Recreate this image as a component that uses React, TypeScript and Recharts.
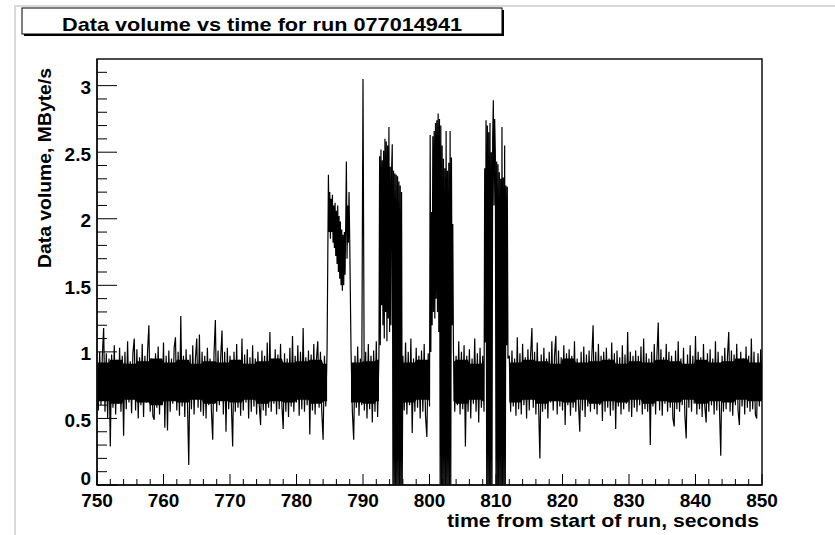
import React from 'react';
import { ComposedChart, Line, Area, XAxis, YAxis, ReferenceArea } from 'recharts';

// ---- data (MByte/s), each segment: start time (s), step (s), values ----
const segA1Start = 750.0;
const segA1Step = 0.2;
const segA1 = [
  0.86, 0.56, 1.0, 0.6, 0.97, 1.18, 0.55, 0.99, 0.5, 0.95,
  0.29, 0.98, 0.58, 1.05, 0.53, 0.94, 0.61, 1.03, 0.55, 0.97,
  0.37, 1.0, 0.57, 1.08, 0.62, 0.93, 0.54, 0.99, 1.1, 0.56,
  1.02, 0.5, 0.96, 0.6, 1.06, 0.51, 0.97, 0.62, 1.0, 1.2,
  0.55, 0.95, 0.52, 0.49, 0.99, 0.58, 1.04, 0.53, 0.94, 0.6,
  1.07, 0.43, 0.97, 0.41, 1.01, 0.55, 0.95, 0.61, 1.03, 1.11,
  0.56, 1.0, 0.52, 1.27, 0.59, 0.97, 0.51, 1.02, 0.63, 0.15,
  0.98, 0.57, 1.05, 0.53, 0.95, 1.1, 0.58, 1.13, 0.55, 1.0,
  0.52, 0.97, 0.5, 1.03, 0.6,
];

const segA2Start = 767.0;
const segA2Step = 0.2;
const segA2 = [
  0.95, 0.56, 0.34, 0.99, 1.24, 0.55, 1.01, 0.6, 0.96, 1.16,
  0.53, 1.0, 0.4, 1.03, 0.57, 0.97, 0.61, 0.29, 1.0, 0.55,
  1.06, 0.58, 0.94, 0.52, 1.1, 0.56, 0.98, 0.62, 1.02, 0.5,
  0.96, 0.55, 1.05, 0.59, 0.95, 0.53, 1.0, 0.6, 0.45, 1.01,
  0.56, 0.97, 0.52, 1.07, 0.58, 1.15, 0.55, 0.94, 0.61, 1.02,
  0.53, 0.98, 0.57, 1.06, 0.6, 0.42, 0.99, 0.55, 0.95, 0.51,
  1.03, 0.59, 1.12, 0.55, 0.97, 0.62, 1.05, 0.52, 1.0, 0.57,
  1.18, 0.55, 0.96, 0.6, 1.01, 0.38, 0.98, 0.56, 1.06, 0.53,
  0.94, 1.08, 0.58, 1.0, 0.55, 0.34, 0.97, 0.59, 1.02,
];

const burst1Start = 784.8;
const burst1Step = 0.1;
const burst1 = [
  2.33, 1.9, 2.2, 1.85, 2.15, 1.9, 2.18, 1.82, 2.1, 1.78,
  2.12, 1.72, 2.06, 1.66, 2.1, 1.6, 2.02, 1.55, 1.98, 1.5,
  1.92, 1.46, 1.88, 1.5, 1.9, 1.58, 1.95, 2.43, 1.7, 2.1,
  1.82, 2.2, 1.85,
];

const segCStart = 788.2;
const segCStep = 0.2;
const segC = [
  1.01, 0.55, 0.34, 0.97, 0.58, 1.04, 0.52, 0.95, 0.6, 3.05,
  0.56, 1.0, 0.5, 1.06, 0.57, 0.97, 0.47, 1.01, 0.55, 1.08,
  0.51, 0.99,
];

const burst2Start = 792.5;
const burst2Step = 0.1;
const burst2 = [
  2.47, 1.05, 2.52, 1.35, 2.44, 1.2, 2.51, 1.1, 2.6, 1.3,
  2.58, 1.08, 2.55, 1.25, 2.69, 1.15, 2.39, 1.2, 2.37, 2.56,
  0, 2.36, 0, 2.34, 0, 2.33, 0, 2.32, 0, 2.28,
  0, 2.25, 0, 2.2, 0,
];

const segEStart = 796.0;
const segEStep = 0.2;
const segE = [
  0.97, 0.56, 1.07, 0.53, 1.0, 0.6, 1.1, 0.39, 0.95, 0.55,
  1.03, 0.58, 0.97, 0.5, 1.01, 0.55, 1.06, 0.52, 0.36, 0.99,
  0.59,
];

const burst3Start = 800.1;
const burst3Step = 0.1;
const burst3 = [
  2.63, 1.0, 2.05, 1.2, 2.62, 1.3, 2.66, 1.25, 2.72, 1.4,
  2.74, 1.3, 2.79, 1.15, 2.75, 0, 2.7, 0, 2.55, 0,
  2.45, 0, 2.38, 0, 2.66, 0, 2.36, 0, 2.42, 0,
  2.66, 0, 2.46, 1.2, 1.96,
];

const segGStart = 803.6;
const segGStep = 0.2;
const segG = [
  1.01, 0.55, 0.97, 0.6, 1.08, 0.53, 1.0, 0.57, 1.05, 0.29,
  0.97, 0.55, 1.02, 0.5, 0.95, 0.61, 1.1, 0.55, 0.99, 0.47,
  1.03, 0.58, 0.97, 0.55,
];

const burst4Start = 808.3;
const burst4Step = 0.1;
const burst4 = [
  2.38, 1.07, 2.74, 0, 2.7, 0, 2.65, 0, 2.72, 0,
  2.5, 0, 2.6, 2.89, 2.1, 2.75, 2.49, 0, 2.43, 0,
  2.41, 0, 2.35, 0, 2.3, 0, 2.69, 0, 2.31, 0,
  2.55, 0, 2.25, 1.05, 2.24, 0.95,
];

const segI1Start = 812.0;
const segI1Step = 0.2;
const segI1 = [
  0.97, 0.55, 1.01, 0.59, 0.95, 0.52, 1.11, 0.57, 0.99, 0.53,
  1.06, 0.6, 0.96, 0.5, 1.02, 0.56, 0.97, 1.18, 0.58, 1.0,
  0.53, 1.07, 0.61, 0.2, 0.98, 0.55, 1.03, 0.57, 0.95, 0.5,
  1.0, 0.62, 1.08, 0.56, 0.97, 1.12, 0.53, 1.01, 0.59, 0.96,
  0.56, 1.05, 0.45, 0.99, 0.6, 1.02, 0.52, 0.97, 0.58, 1.08,
  0.55, 0.95, 0.61, 0.4, 1.0, 0.56, 1.04, 0.51, 0.98, 0.59,
  1.01, 0.55, 0.96, 1.2, 0.57, 1.0, 0.53, 1.06, 0.6, 0.97,
  0.48, 1.0, 0.55, 1.03, 0.58, 0.95, 0.52, 1.07, 0.56, 0.99,
  0.42, 1.01, 0.59, 0.96, 0.53, 1.05, 0.57, 0.98, 0.61, 1.15,
  0.55, 1.0, 0.51, 0.97, 0.58,
];

const segI2Start = 831.0;
const segI2Step = 0.2;
const segI2 = [
  1.01, 0.55, 0.97, 0.6, 1.04, 0.53, 1.1, 0.57, 0.99, 0.55,
  0.95, 0.3, 1.0, 0.59, 1.06, 0.53, 0.97, 1.22, 0.56, 1.02,
  0.52, 0.96, 0.61, 1.06, 0.55, 1.0, 0.58, 0.97, 0.5, 0.44,
  1.01, 0.57, 1.08, 0.55, 0.95, 0.6, 1.03, 0.53, 0.35, 0.98,
  0.58, 1.05, 0.55, 0.97, 0.61, 1.12, 0.53, 1.0, 0.57, 0.96,
  0.51, 1.06, 0.59, 0.47, 0.99, 0.55, 1.02, 0.6, 0.95, 0.53,
  1.08, 0.56, 1.0, 0.58, 0.22, 0.97, 0.55, 1.03, 0.57, 0.96,
  1.15, 0.55, 1.01, 0.52, 0.98, 0.6, 1.06, 0.56, 0.45, 1.0,
  0.59, 0.95, 0.53, 1.04, 0.58, 0.97, 0.55, 1.1, 0.57, 1.0,
  0.53, 0.5, 0.99, 0.59, 1.02, 0.75,
];

// dense core of the quiet-period band, per 2-second bin starting at 750 s
const coreBinStart = 750;
const coreBinWidth = 2;
const coreLow = [
  0.63, 0.61, 0.64, 0.62, 0.6, 0.63, 0.62, 0.64, 0.61, 0.63,
  0.62, 0.64, 0.61, 0.63, 0.62, 0.64, 0.61, 0.63, 0.63, 0.62,
  0.61, 0.63, 0.63, 0.62, 0.64, 0.63, 0.63, 0.61, 0.64, 0.63,
  0.63, 0.62, 0.64, 0.61, 0.63, 0.62, 0.64, 0.61, 0.63, 0.62,
  0.64, 0.61, 0.63, 0.62, 0.64, 0.61, 0.63, 0.62, 0.64, 0.63,
];
const coreHigh = [
  0.92, 0.94, 0.91, 0.93, 0.95, 0.92, 0.94, 0.91, 0.93, 0.92,
  0.94, 0.91, 0.93, 0.95, 0.92, 0.93, 0.94, 0.91, 0.93, 0.92,
  0.93, 0.94, 0.93, 0.92, 0.94, 0.93, 0.93, 0.94, 0.91, 0.93,
  0.93, 0.92, 0.94, 0.93, 0.91, 0.95, 0.92, 0.93, 0.94, 0.91,
  0.93, 0.92, 0.94, 0.93, 0.91, 0.94, 0.92, 0.93, 0.95, 0.92,
];

// ---- axis ticks ----
const xMajorTicks = [750, 760, 770, 780, 790, 800, 810, 820, 830, 840, 850];
const xMinorTicks = [
  752, 754, 756, 758, 762, 764, 766, 768, 772, 774, 776, 778,
  782, 784, 786, 788, 792, 794, 796, 798, 802, 804, 806, 808,
  812, 814, 816, 818, 822, 824, 826, 828, 832, 834, 836, 838,
  842, 844, 846, 848,
];
const yMajorTicks = [0, 0.5, 1, 1.5, 2, 2.5, 3];
const yMinorTicks = [
  0.1, 0.2, 0.3, 0.4, 0.6, 0.7, 0.8, 0.9, 1.1, 1.2, 1.3, 1.4,
  1.6, 1.7, 1.8, 1.9, 2.1, 2.2, 2.3, 2.4, 2.6, 2.7, 2.8, 2.9, 3.1,
];

const titleText = 'Data volume vs time for run 077014941';
const xTitle = 'time from start of run, seconds';
const yTitle = 'Data volume, MByte/s';

// ---- build the table ----
const coreAt = (t: number): [number, number] => {
  const i = Math.min(coreLow.length - 1, Math.floor((t - coreBinStart) / coreBinWidth));
  return [coreLow[i], coreHigh[i]];
};

const segment = (start: number, step: number, values: number[], quiet: boolean) =>
  values.map((v, i) => {
    const t = Math.round((start + i * step) * 10) / 10;
    return { t, v, core: quiet ? coreAt(t) : null };
  });

const data = [
  ...segment(segA1Start, segA1Step, segA1, true),
  ...segment(segA2Start, segA2Step, segA2, true),
  ...segment(burst1Start, burst1Step, burst1, false),
  ...segment(segCStart, segCStep, segC, true),
  ...segment(burst2Start, burst2Step, burst2, false),
  ...segment(segEStart, segEStep, segE, true),
  ...segment(burst3Start, burst3Step, burst3, false),
  ...segment(segGStart, segGStep, segG, true),
  ...segment(burst4Start, burst4Step, burst4, false),
  ...segment(segI1Start, segI1Step, segI1, true),
  ...segment(segI2Start, segI2Step, segI2, true),
];

const FONT = '"Liberation Sans", Arial, Helvetica, sans-serif';

const YTick = (props: any) => {
  const { x, y, payload } = props;
  const v = payload.value;
  const major = yMajorTicks.includes(v);
  return (
    <g>
      <line x1={x} x2={x + (major ? 20 : 10)} y1={y} y2={y} stroke="#000" strokeWidth={1} />
      {major && (
        <text x={x - 6} y={y + (v === 0 ? 0 : 8.5)} textAnchor="end" fontSize={19} fontWeight="bold"
          fontFamily={FONT} fill="#000">
          {String(v)}
        </text>
      )}
    </g>
  );
};

const XTick = (props: any) => {
  const { x, y, payload } = props;
  const v = payload.value;
  const major = xMajorTicks.includes(v);
  return (
    <g>
      <line x1={x} x2={x} y1={y} y2={y - (major ? 11 : 6)} stroke="#000" strokeWidth={1} />
      {major && (
        <text x={x} y={y + 21.5} textAnchor="middle" fontSize={19} fontWeight="bold" fontFamily={FONT} fill="#000">
          {String(v)}
        </text>
      )}
    </g>
  );
};

export default function App() {
  return (
    <div style={{ position: 'absolute', left: 0, top: 0, width: 835, height: 535, background: '#fff' }}>
      <svg width={835} height={535} style={{ position: 'absolute', left: 0, top: 0 }}>
        <line x1={14} x2={835} y1={6} y2={6} stroke="#d9d9d9" strokeWidth={2} />
        <line x1={15} x2={15} y1={6} y2={535} stroke="#d9d9d9" strokeWidth={2} />
      </svg>
      <div style={{ position: 'absolute', left: 0, top: 0 }}>
        <ComposedChart width={835} height={535} data={data} margin={{ top: 59, right: 73, bottom: 20, left: 37 }}>
          <ReferenceArea x1={750} x2={850} y1={0} y2={3.2} fill="none" stroke="#111" strokeWidth={1.5} ifOverflow="visible" />
          <XAxis
            dataKey="t"
            type="number"
            domain={[750, 850]}
            ticks={[...xMajorTicks, ...xMinorTicks]}
            interval={0}
            height={30}
            tickSize={0}
            tickMargin={0}
            tickLine={false}
            tick={<XTick />}
            axisLine={{ stroke: '#111', strokeWidth: 1.5 }}
            allowDataOverflow
          />
          <YAxis
            type="number"
            domain={[0, 3.2]}
            ticks={[...yMajorTicks, ...yMinorTicks]}
            interval={0}
            width={60}
            tickSize={0}
            tickMargin={0}
            tickLine={false}
            tick={<YTick />}
            axisLine={{ stroke: '#111', strokeWidth: 1.5 }}
            allowDataOverflow
          />
          <Area
            dataKey="core"
            type="linear"
            stroke="none"
            fill="#000"
            fillOpacity={1}
            connectNulls={false}
            dot={false}
            activeDot={false}
            isAnimationActive={false}
          />
          <Line
            dataKey="v"
            type="linear"
            stroke="#000"
            strokeWidth={1.2}
            dot={false}
            activeDot={false}
            isAnimationActive={false}
          />
        </ComposedChart>
      </div>
      <svg width={835} height={535} style={{ position: 'absolute', left: 0, top: 0, pointerEvents: 'none' }}>
        <rect x={24} y={10} width={480} height={26} fill="#000" />
        <rect x={22} y={8} width={480} height={26} fill="#fff" stroke="#000" strokeWidth={1} />
        <text x={262} y={31} textAnchor="middle" fontSize={19} fontWeight="bold" fontFamily={FONT} fill="#000"
          textLength={400} lengthAdjust="spacingAndGlyphs">
          {titleText}
        </text>
        <text x={759} y={527} textAnchor="end" fontSize={19} fontWeight="bold" fontFamily={FONT} fill="#000"
          textLength={312} lengthAdjust="spacingAndGlyphs">
          {xTitle}
        </text>
        <text x={51} y={68} transform="rotate(-90, 51, 68)" textAnchor="end" fontSize={19} fontWeight="bold"
          fontFamily={FONT} fill="#000" textLength={200} lengthAdjust="spacingAndGlyphs">
          {yTitle}
        </text>
      </svg>
    </div>
  );
}
